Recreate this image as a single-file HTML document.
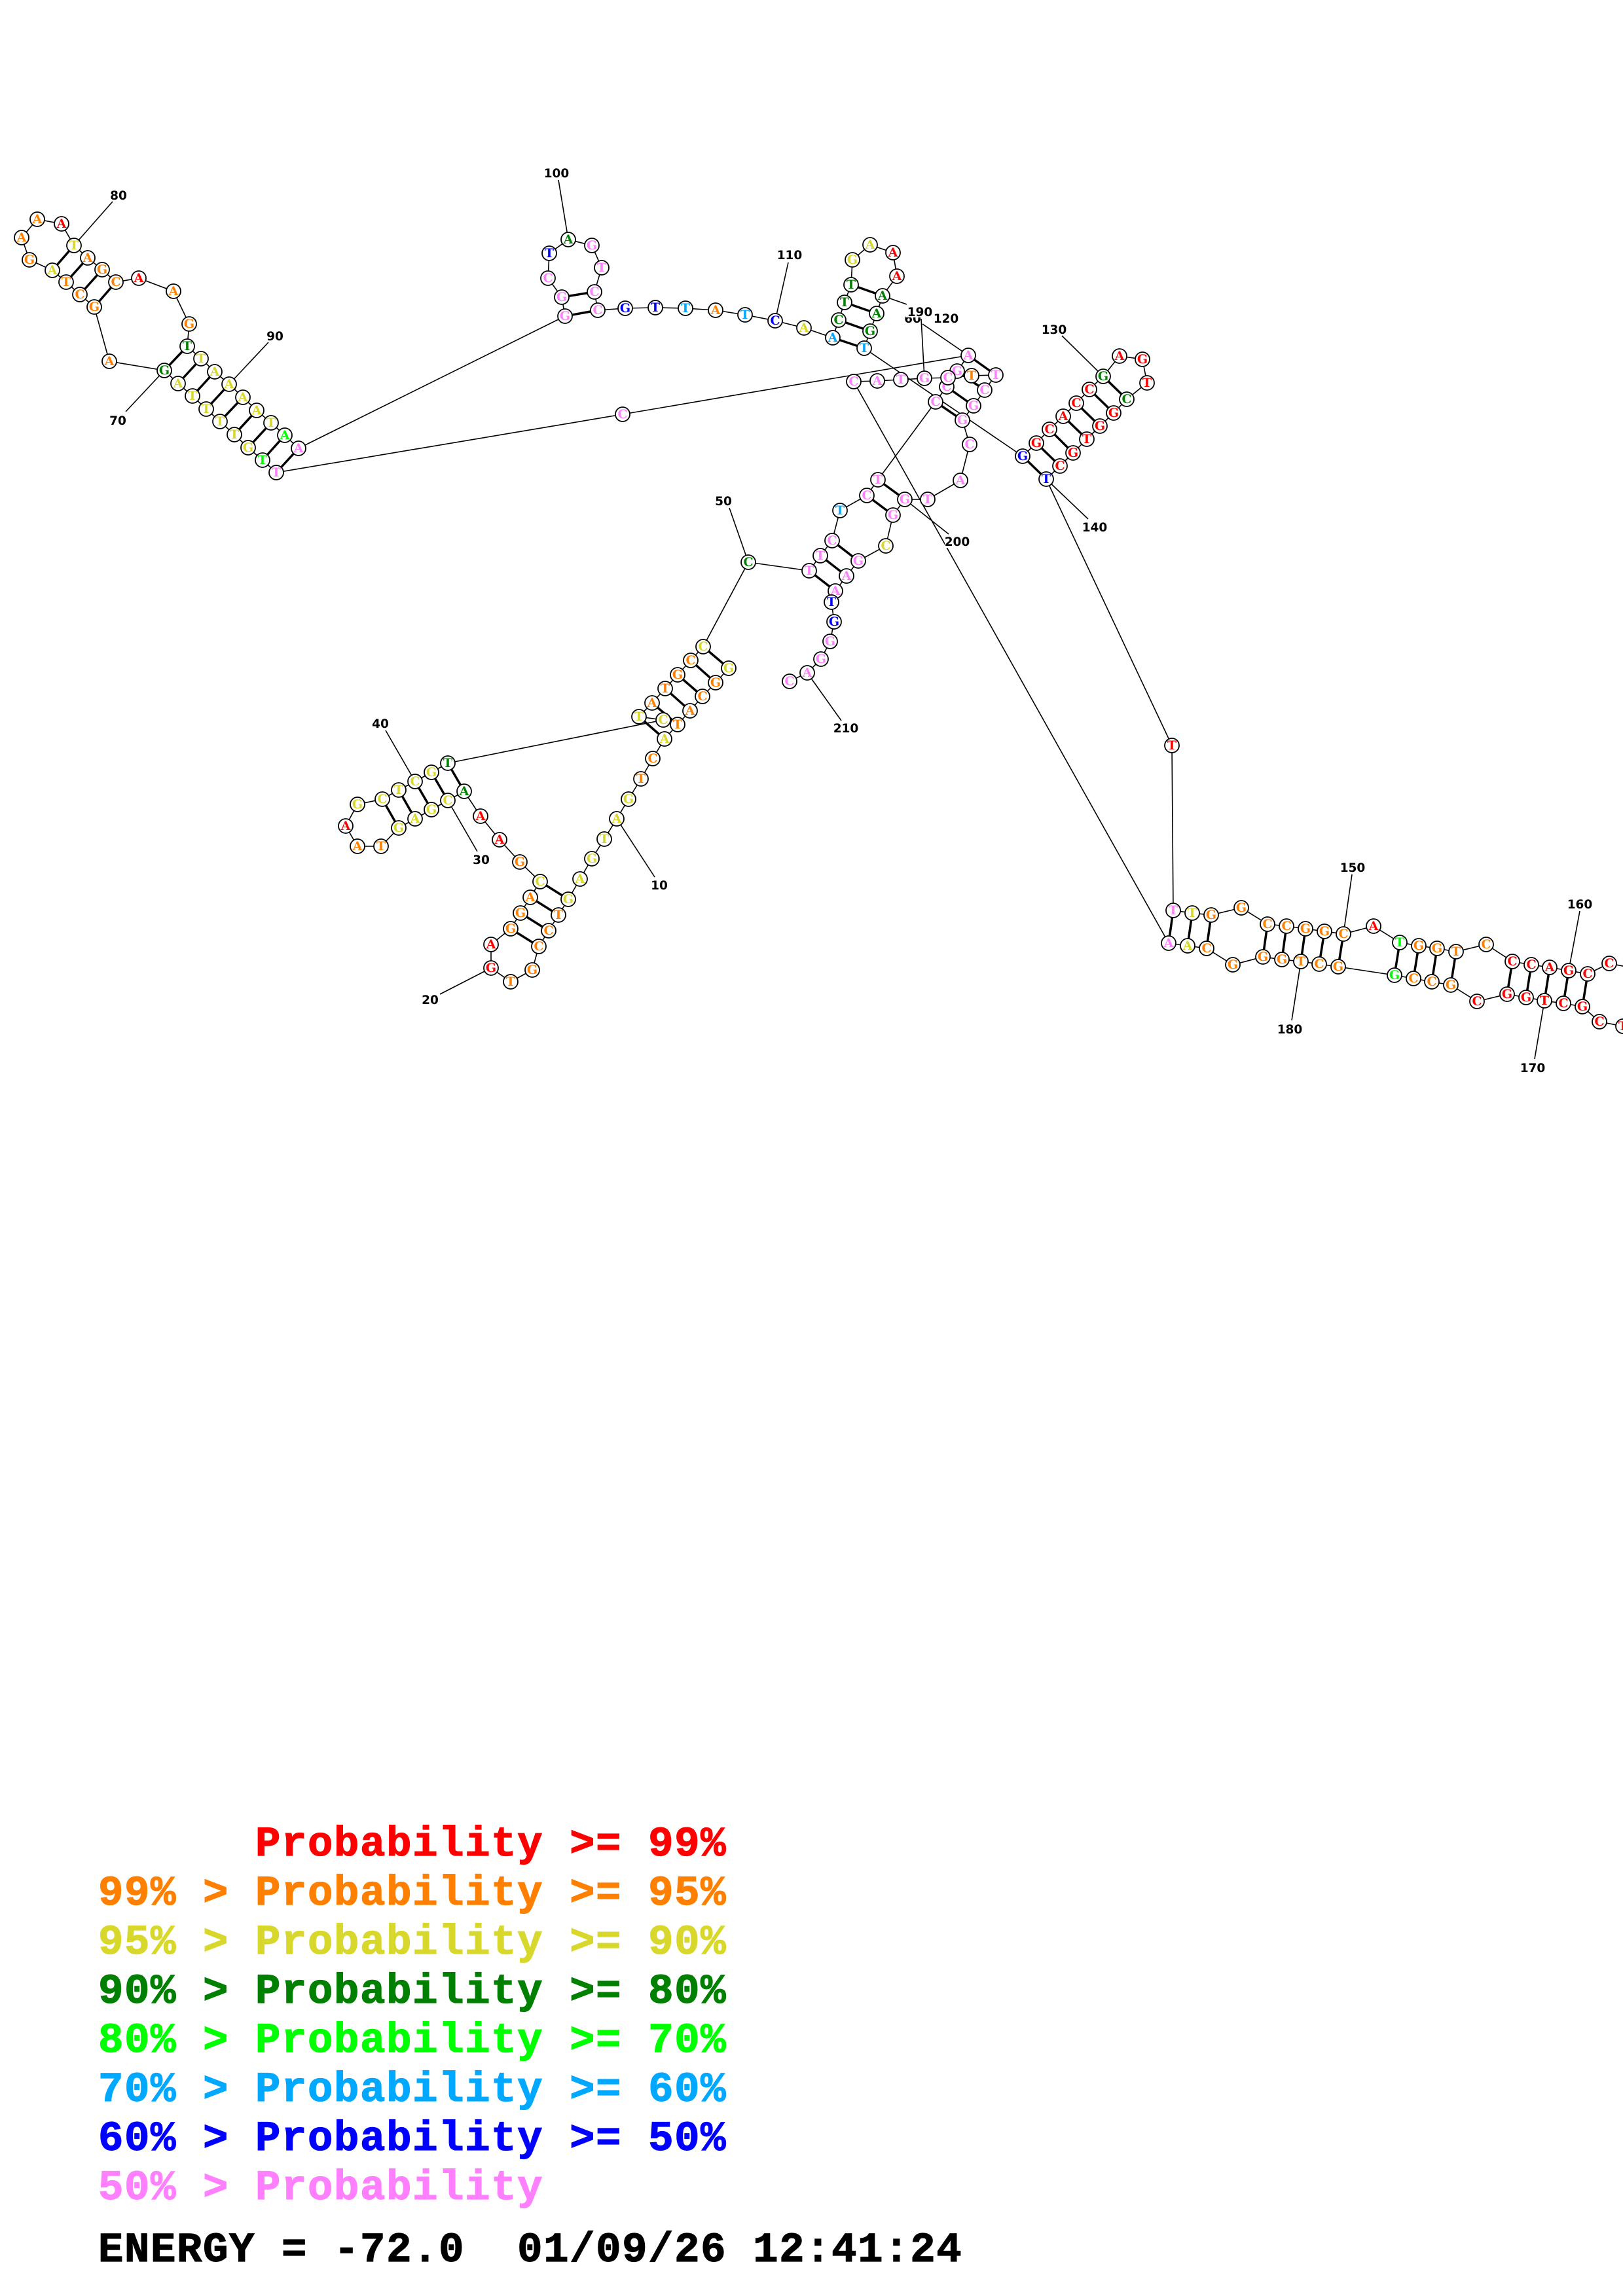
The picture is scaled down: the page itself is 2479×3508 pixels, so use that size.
<!DOCTYPE html>
<html><head><meta charset="utf-8"><style>
html,body{margin:0;padding:0;background:#fff}
svg{display:block}
circle{fill:#fff;stroke:#000;stroke-width:1.8}
.n text{font:bold 19px "DejaVu Serif",serif;text-anchor:middle}
.l text{font:bold 18.5px "DejaVu Sans",sans-serif;text-anchor:middle;fill:#000}
.k text{font:bold 64px "Liberation Mono",monospace;letter-spacing:1.6px;white-space:pre;stroke-width:1.2px;stroke:currentColor}
.r{fill:#f00;color:#f00}.o{fill:#ff8000;color:#ff8000}.y{fill:#d8d82c;color:#d8d82c}.d{fill:#008000;color:#008000}.g{fill:#0f0;color:#0f0}.c{fill:#00a8ff;color:#00a8ff}.b{fill:#00f;color:#00f}.p{fill:#ff80ff;color:#ff80ff}
</style></head><body>
<svg width="2479" height="3508" viewBox="0 0 2479 3508" xmlns="http://www.w3.org/2000/svg">
<rect width="2479" height="3508" fill="#fff"/>
<!-- backbone -->
<polyline fill="none" stroke="#000" stroke-width="1.6" points="1113,1021 1093,1043 1073,1064 1054,1086 1035,1107 1015,1129 997,1159 979,1190 960,1221 942,1251 923,1282 904,1312 886,1343 868,1374 853,1398 838,1422 823,1446 813,1482 780,1500 750,1479 750,1443 780,1419 795,1395 810,1371 825,1347 794,1317 763,1283 734,1247 709,1209 684,1223 659,1237 634,1251 609,1265 582,1293 546,1293 528,1262 546,1229 584,1221 609,1207 634,1194 659,1180 684,1166 1013,1100 976,1095 996,1074 1016,1052 1035,1031 1055,1009 1074,988 1143,859 1236,872 1253,849 1271,826 1283,780 1324,757 1341,733 1429,614 1446,591 1462,567 1479,543 951,633 422,722 401,703 379,684 358,664 336,644 315,625 294,605 272,586 251,566 167,552 144,469 122,450 101,431 80,413 45,397 33,363 57,335 94,342 113,375 134,394 156,412 177,431 212,425 265,445 289,495 286,529 307,548 328,568 350,587 371,607 392,627 414,646 435,665 456,685 863,483 858,454 837,425 839,387 868,366 904,375 919,409 908,446 913,474 955,471 1001,470 1047,471 1093,474 1138,481 1184,490 1228,501 1272,516 1281,489 1290,462 1300,435 1302,397 1329,374 1364,386 1370,422 1348,452 1339,479 1329,506 1320,532 1562,697 1583,677 1603,656 1624,636 1644,616 1664,595 1685,575 1710,544 1745,549 1752,585 1721,610 1701,631 1680,651 1660,671 1639,692 1619,712 1598,732 1790,1139 1792,1391 1821,1395 1850,1398 1896,1387 1936,1412 1965,1415 1994,1419 2023,1423 2052,1427 2098,1415 2138,1440 2167,1445 2195,1449 2224,1454 2270,1443 2310,1469 2339,1474 2367,1478 2396,1483 2425,1488 2458,1472 2510,1482 2510,1572 2479,1568 2443,1561 2417,1538 2388,1533 2359,1529 2331,1524 2302,1519 2256,1530 2216,1505 2187,1500 2159,1495 2130,1490 2044,1477 2015,1473 1987,1469 1958,1466 1929,1462 1883,1474 1843,1449 1814,1445 1785,1441 1304,583 1340,582 1376,580 1412,578 1448,577 1484,574 1521,573 1504,596 1487,620 1470,642 1481,679 1467,734 1417,763 1382,763 1364,787 1353,834 1311,857 1293,880 1276,903 1270,920 1274,950 1268,980 1254,1007 1233,1028 1206,1041"/>
<!-- base pairs -->
<path fill="none" stroke="#000" stroke-width="3.5" d="M1113 1021L1074 988M1093 1043L1055 1009M1073 1064L1035 1031M1054 1086L1016 1052M1035 1107L996 1074M1015 1129L976 1095M868 1374L825 1347M853 1398L810 1371M838 1422L795 1395M823 1446L780 1419M709 1209L684 1166M684 1223L659 1180M659 1237L634 1194M634 1251L609 1207M609 1265L584 1221M1236 872L1276 903M1253 849L1293 880M1271 826L1311 857M1324 757L1364 787M1341 733L1382 763M1429 614L1470 642M1446 591L1487 620M1462 567L1504 596M1479 543L1521 573M422 722L456 685M401 703L435 665M379 684L414 646M358 664L392 627M336 644L371 607M315 625L350 587M294 605L328 568M272 586L307 548M251 566L286 529M144 469L177 431M122 450L156 412M101 431L134 394M80 413L113 375M863 483L913 474M858 454L908 446M1272 516L1320 532M1281 489L1329 506M1290 462L1339 479M1300 435L1348 452M1562 697L1598 732M1583 677L1619 712M1603 656L1639 692M1624 636L1660 671M1644 616L1680 651M1664 595L1701 631M1685 575L1721 610M1792 1391L1785 1441M1821 1395L1814 1445M1850 1398L1843 1449M1936 1412L1929 1462M1965 1415L1958 1466M1994 1419L1987 1469M2023 1423L2015 1473M2052 1427L2044 1477M2138 1440L2130 1490M2167 1445L2159 1495M2195 1449L2187 1500M2224 1454L2216 1505M2310 1469L2302 1519M2339 1474L2331 1524M2367 1478L2359 1529M2396 1483L2388 1533M2425 1488L2417 1538"/>
<!-- ticks -->
<path fill="none" stroke="#000" stroke-width="1.6" d="M942 1251L1000 1340M750 1479L672 1519M684 1223L729 1301M634 1194L589 1116M1143 859L1114 776M1479 543L1409 495M251 566L192 629M113 375L172 308M350 587L410 523M868 366L853 275M1184 490L1204 401M1348 452L1385 465M1685 575L1622 513M1598 732L1662 793M2052 1427L2065 1336M2396 1483L2413 1392M2359 1529L2344 1618M1987 1469L1973 1559M1412 578L1407 487M1382 763L1449 816M1233 1028L1285 1101"/>
<!-- labels -->
<g class="l">
<text x="1007" y="1359">10</text>
<text x="657" y="1534">20</text>
<text x="735" y="1320">30</text>
<text x="581" y="1112">40</text>
<text x="1105" y="772">50</text>
<text x="1394" y="493">60</text>
<text x="180" y="649">70</text>
<text x="181" y="305">80</text>
<text x="420" y="520">90</text>
<text x="850" y="271">100</text>
<text x="1206" y="396">110</text>
<text x="1445" y="493">120</text>
<text x="1610" y="510">130</text>
<text x="1672" y="812">140</text>
<text x="2066" y="1332">150</text>
<text x="2413" y="1388">160</text>
<text x="2341" y="1638">170</text>
<text x="1970" y="1579">180</text>
<rect x="1383" y="466" width="42" height="19" fill="#fff"/>
<text x="1405" y="483">190</text>
<rect x="1443" y="819" width="39" height="18" fill="#fff"/>
<text x="1462" y="834">200</text>
<text x="1292" y="1119">210</text>
</g>
<!-- nodes -->
<g class="n">
<circle cx="1113" cy="1021" r="11"/><text x="1113" y="1027" class="y">G</text>
<circle cx="1093" cy="1043" r="11"/><text x="1093" y="1049" class="o">G</text>
<circle cx="1073" cy="1064" r="11"/><text x="1073" y="1070" class="o">C</text>
<circle cx="1054" cy="1086" r="11"/><text x="1054" y="1092" class="o">A</text>
<circle cx="1035" cy="1107" r="11"/><text x="1035" y="1113" class="o">T</text>
<circle cx="1015" cy="1129" r="11"/><text x="1015" y="1135" class="y">A</text>
<circle cx="997" cy="1159" r="11"/><text x="997" y="1165" class="o">C</text>
<circle cx="979" cy="1190" r="11"/><text x="979" y="1196" class="o">T</text>
<circle cx="960" cy="1221" r="11"/><text x="960" y="1227" class="y">G</text>
<circle cx="942" cy="1251" r="11"/><text x="942" y="1257" class="y">A</text>
<circle cx="923" cy="1282" r="11"/><text x="923" y="1288" class="y">T</text>
<circle cx="904" cy="1312" r="11"/><text x="904" y="1318" class="y">G</text>
<circle cx="886" cy="1343" r="11"/><text x="886" y="1349" class="y">A</text>
<circle cx="868" cy="1374" r="11"/><text x="868" y="1380" class="y">G</text>
<circle cx="853" cy="1398" r="11"/><text x="853" y="1404" class="o">T</text>
<circle cx="838" cy="1422" r="11"/><text x="838" y="1428" class="o">C</text>
<circle cx="823" cy="1446" r="11"/><text x="823" y="1452" class="o">C</text>
<circle cx="813" cy="1482" r="11"/><text x="813" y="1488" class="o">G</text>
<circle cx="780" cy="1500" r="11"/><text x="780" y="1506" class="o">T</text>
<circle cx="750" cy="1479" r="11"/><text x="750" y="1485" class="r">G</text>
<circle cx="750" cy="1443" r="11"/><text x="750" y="1449" class="r">A</text>
<circle cx="780" cy="1419" r="11"/><text x="780" y="1425" class="o">G</text>
<circle cx="795" cy="1395" r="11"/><text x="795" y="1401" class="o">G</text>
<circle cx="810" cy="1371" r="11"/><text x="810" y="1377" class="o">A</text>
<circle cx="825" cy="1347" r="11"/><text x="825" y="1353" class="y">C</text>
<circle cx="794" cy="1317" r="11"/><text x="794" y="1323" class="o">G</text>
<circle cx="763" cy="1283" r="11"/><text x="763" y="1289" class="r">A</text>
<circle cx="734" cy="1247" r="11"/><text x="734" y="1253" class="r">A</text>
<circle cx="709" cy="1209" r="11"/><text x="709" y="1215" class="d">A</text>
<circle cx="684" cy="1223" r="11"/><text x="684" y="1229" class="y">C</text>
<circle cx="659" cy="1237" r="11"/><text x="659" y="1243" class="y">G</text>
<circle cx="634" cy="1251" r="11"/><text x="634" y="1257" class="y">A</text>
<circle cx="609" cy="1265" r="11"/><text x="609" y="1271" class="y">G</text>
<circle cx="582" cy="1293" r="11"/><text x="582" y="1299" class="o">T</text>
<circle cx="546" cy="1293" r="11"/><text x="546" y="1299" class="o">A</text>
<circle cx="528" cy="1262" r="11"/><text x="528" y="1268" class="r">A</text>
<circle cx="546" cy="1229" r="11"/><text x="546" y="1235" class="y">G</text>
<circle cx="584" cy="1221" r="11"/><text x="584" y="1227" class="y">C</text>
<circle cx="609" cy="1207" r="11"/><text x="609" y="1213" class="y">T</text>
<circle cx="634" cy="1194" r="11"/><text x="634" y="1200" class="y">C</text>
<circle cx="659" cy="1180" r="11"/><text x="659" y="1186" class="y">G</text>
<circle cx="684" cy="1166" r="11"/><text x="684" y="1172" class="d">T</text>
<circle cx="1013" cy="1100" r="11"/><text x="1013" y="1106" class="y">C</text>
<circle cx="976" cy="1095" r="11"/><text x="976" y="1101" class="y">T</text>
<circle cx="996" cy="1074" r="11"/><text x="996" y="1080" class="o">A</text>
<circle cx="1016" cy="1052" r="11"/><text x="1016" y="1058" class="o">T</text>
<circle cx="1035" cy="1031" r="11"/><text x="1035" y="1037" class="o">G</text>
<circle cx="1055" cy="1009" r="11"/><text x="1055" y="1015" class="o">C</text>
<circle cx="1074" cy="988" r="11"/><text x="1074" y="994" class="y">C</text>
<circle cx="1143" cy="859" r="11"/><text x="1143" y="865" class="d">C</text>
<circle cx="1236" cy="872" r="11"/><text x="1236" y="878" class="p">T</text>
<circle cx="1253" cy="849" r="11"/><text x="1253" y="855" class="p">T</text>
<circle cx="1271" cy="826" r="11"/><text x="1271" y="832" class="p">C</text>
<circle cx="1283" cy="780" r="11"/><text x="1283" y="786" class="c">T</text>
<circle cx="1324" cy="757" r="11"/><text x="1324" y="763" class="p">C</text>
<circle cx="1341" cy="733" r="11"/><text x="1341" y="739" class="p">T</text>
<circle cx="1429" cy="614" r="11"/><text x="1429" y="620" class="p">C</text>
<circle cx="1446" cy="591" r="11"/><text x="1446" y="597" class="p">C</text>
<circle cx="1462" cy="567" r="11"/><text x="1462" y="573" class="p">G</text>
<circle cx="1479" cy="543" r="11"/><text x="1479" y="549" class="p">A</text>
<circle cx="951" cy="633" r="11"/><text x="951" y="639" class="p">C</text>
<circle cx="422" cy="722" r="11"/><text x="422" y="728" class="p">T</text>
<circle cx="401" cy="703" r="11"/><text x="401" y="709" class="g">T</text>
<circle cx="379" cy="684" r="11"/><text x="379" y="690" class="y">G</text>
<circle cx="358" cy="664" r="11"/><text x="358" y="670" class="y">T</text>
<circle cx="336" cy="644" r="11"/><text x="336" y="650" class="y">T</text>
<circle cx="315" cy="625" r="11"/><text x="315" y="631" class="y">T</text>
<circle cx="294" cy="605" r="11"/><text x="294" y="611" class="y">T</text>
<circle cx="272" cy="586" r="11"/><text x="272" y="592" class="y">A</text>
<circle cx="251" cy="566" r="11"/><text x="251" y="572" class="d">G</text>
<circle cx="167" cy="552" r="11"/><text x="167" y="558" class="o">A</text>
<circle cx="144" cy="469" r="11"/><text x="144" y="475" class="o">G</text>
<circle cx="122" cy="450" r="11"/><text x="122" y="456" class="o">C</text>
<circle cx="101" cy="431" r="11"/><text x="101" y="437" class="o">T</text>
<circle cx="80" cy="413" r="11"/><text x="80" y="419" class="y">A</text>
<circle cx="45" cy="397" r="11"/><text x="45" y="403" class="o">G</text>
<circle cx="33" cy="363" r="11"/><text x="33" y="369" class="o">A</text>
<circle cx="57" cy="335" r="11"/><text x="57" y="341" class="o">A</text>
<circle cx="94" cy="342" r="11"/><text x="94" y="348" class="r">A</text>
<circle cx="113" cy="375" r="11"/><text x="113" y="381" class="y">T</text>
<circle cx="134" cy="394" r="11"/><text x="134" y="400" class="o">A</text>
<circle cx="156" cy="412" r="11"/><text x="156" y="418" class="o">G</text>
<circle cx="177" cy="431" r="11"/><text x="177" y="437" class="o">C</text>
<circle cx="212" cy="425" r="11"/><text x="212" y="431" class="r">A</text>
<circle cx="265" cy="445" r="11"/><text x="265" y="451" class="o">A</text>
<circle cx="289" cy="495" r="11"/><text x="289" y="501" class="o">G</text>
<circle cx="286" cy="529" r="11"/><text x="286" y="535" class="d">T</text>
<circle cx="307" cy="548" r="11"/><text x="307" y="554" class="y">T</text>
<circle cx="328" cy="568" r="11"/><text x="328" y="574" class="y">A</text>
<circle cx="350" cy="587" r="11"/><text x="350" y="593" class="y">A</text>
<circle cx="371" cy="607" r="11"/><text x="371" y="613" class="y">A</text>
<circle cx="392" cy="627" r="11"/><text x="392" y="633" class="y">A</text>
<circle cx="414" cy="646" r="11"/><text x="414" y="652" class="y">T</text>
<circle cx="435" cy="665" r="11"/><text x="435" y="671" class="g">A</text>
<circle cx="456" cy="685" r="11"/><text x="456" y="691" class="p">A</text>
<circle cx="863" cy="483" r="11"/><text x="863" y="489" class="p">G</text>
<circle cx="858" cy="454" r="11"/><text x="858" y="460" class="p">G</text>
<circle cx="837" cy="425" r="11"/><text x="837" y="431" class="p">C</text>
<circle cx="839" cy="387" r="11"/><text x="839" y="393" class="b">T</text>
<circle cx="868" cy="366" r="11"/><text x="868" y="372" class="d">A</text>
<circle cx="904" cy="375" r="11"/><text x="904" y="381" class="p">G</text>
<circle cx="919" cy="409" r="11"/><text x="919" y="415" class="p">T</text>
<circle cx="908" cy="446" r="11"/><text x="908" y="452" class="p">C</text>
<circle cx="913" cy="474" r="11"/><text x="913" y="480" class="p">C</text>
<circle cx="955" cy="471" r="11"/><text x="955" y="477" class="b">G</text>
<circle cx="1001" cy="470" r="11"/><text x="1001" y="476" class="b">T</text>
<circle cx="1047" cy="471" r="11"/><text x="1047" y="477" class="c">T</text>
<circle cx="1093" cy="474" r="11"/><text x="1093" y="480" class="o">A</text>
<circle cx="1138" cy="481" r="11"/><text x="1138" y="487" class="c">T</text>
<circle cx="1184" cy="490" r="11"/><text x="1184" y="496" class="b">C</text>
<circle cx="1228" cy="501" r="11"/><text x="1228" y="507" class="y">A</text>
<circle cx="1272" cy="516" r="11"/><text x="1272" y="522" class="c">A</text>
<circle cx="1281" cy="489" r="11"/><text x="1281" y="495" class="d">C</text>
<circle cx="1290" cy="462" r="11"/><text x="1290" y="468" class="d">T</text>
<circle cx="1300" cy="435" r="11"/><text x="1300" y="441" class="d">T</text>
<circle cx="1302" cy="397" r="11"/><text x="1302" y="403" class="y">G</text>
<circle cx="1329" cy="374" r="11"/><text x="1329" y="380" class="y">A</text>
<circle cx="1364" cy="386" r="11"/><text x="1364" y="392" class="r">A</text>
<circle cx="1370" cy="422" r="11"/><text x="1370" y="428" class="r">A</text>
<circle cx="1348" cy="452" r="11"/><text x="1348" y="458" class="d">A</text>
<circle cx="1339" cy="479" r="11"/><text x="1339" y="485" class="d">A</text>
<circle cx="1329" cy="506" r="11"/><text x="1329" y="512" class="d">G</text>
<circle cx="1320" cy="532" r="11"/><text x="1320" y="538" class="c">T</text>
<circle cx="1562" cy="697" r="11"/><text x="1562" y="703" class="b">G</text>
<circle cx="1583" cy="677" r="11"/><text x="1583" y="683" class="r">G</text>
<circle cx="1603" cy="656" r="11"/><text x="1603" y="662" class="r">C</text>
<circle cx="1624" cy="636" r="11"/><text x="1624" y="642" class="r">A</text>
<circle cx="1644" cy="616" r="11"/><text x="1644" y="622" class="r">C</text>
<circle cx="1664" cy="595" r="11"/><text x="1664" y="601" class="r">C</text>
<circle cx="1685" cy="575" r="11"/><text x="1685" y="581" class="d">G</text>
<circle cx="1710" cy="544" r="11"/><text x="1710" y="550" class="r">A</text>
<circle cx="1745" cy="549" r="11"/><text x="1745" y="555" class="r">G</text>
<circle cx="1752" cy="585" r="11"/><text x="1752" y="591" class="r">T</text>
<circle cx="1721" cy="610" r="11"/><text x="1721" y="616" class="d">C</text>
<circle cx="1701" cy="631" r="11"/><text x="1701" y="637" class="r">G</text>
<circle cx="1680" cy="651" r="11"/><text x="1680" y="657" class="r">G</text>
<circle cx="1660" cy="671" r="11"/><text x="1660" y="677" class="r">T</text>
<circle cx="1639" cy="692" r="11"/><text x="1639" y="698" class="r">G</text>
<circle cx="1619" cy="712" r="11"/><text x="1619" y="718" class="r">C</text>
<circle cx="1598" cy="732" r="11"/><text x="1598" y="738" class="b">T</text>
<circle cx="1790" cy="1139" r="11"/><text x="1790" y="1145" class="r">T</text>
<circle cx="1792" cy="1391" r="11"/><text x="1792" y="1397" class="p">T</text>
<circle cx="1821" cy="1395" r="11"/><text x="1821" y="1401" class="y">T</text>
<circle cx="1850" cy="1398" r="11"/><text x="1850" y="1404" class="o">G</text>
<circle cx="1896" cy="1387" r="11"/><text x="1896" y="1393" class="o">G</text>
<circle cx="1936" cy="1412" r="11"/><text x="1936" y="1418" class="o">C</text>
<circle cx="1965" cy="1415" r="11"/><text x="1965" y="1421" class="o">C</text>
<circle cx="1994" cy="1419" r="11"/><text x="1994" y="1425" class="o">G</text>
<circle cx="2023" cy="1423" r="11"/><text x="2023" y="1429" class="o">G</text>
<circle cx="2052" cy="1427" r="11"/><text x="2052" y="1433" class="o">C</text>
<circle cx="2098" cy="1415" r="11"/><text x="2098" y="1421" class="r">A</text>
<circle cx="2138" cy="1440" r="11"/><text x="2138" y="1446" class="g">T</text>
<circle cx="2167" cy="1445" r="11"/><text x="2167" y="1451" class="o">G</text>
<circle cx="2195" cy="1449" r="11"/><text x="2195" y="1455" class="o">G</text>
<circle cx="2224" cy="1454" r="11"/><text x="2224" y="1460" class="o">T</text>
<circle cx="2270" cy="1443" r="11"/><text x="2270" y="1449" class="o">C</text>
<circle cx="2310" cy="1469" r="11"/><text x="2310" y="1475" class="r">C</text>
<circle cx="2339" cy="1474" r="11"/><text x="2339" y="1480" class="r">C</text>
<circle cx="2367" cy="1478" r="11"/><text x="2367" y="1484" class="r">A</text>
<circle cx="2396" cy="1483" r="11"/><text x="2396" y="1489" class="r">G</text>
<circle cx="2425" cy="1488" r="11"/><text x="2425" y="1494" class="r">C</text>
<circle cx="2458" cy="1472" r="11"/><text x="2458" y="1478" class="r">C</text>
<circle cx="2479" cy="1568" r="11"/><text x="2479" y="1574" class="r">T</text>
<circle cx="2443" cy="1561" r="11"/><text x="2443" y="1567" class="r">C</text>
<circle cx="2417" cy="1538" r="11"/><text x="2417" y="1544" class="r">G</text>
<circle cx="2388" cy="1533" r="11"/><text x="2388" y="1539" class="r">C</text>
<circle cx="2359" cy="1529" r="11"/><text x="2359" y="1535" class="r">T</text>
<circle cx="2331" cy="1524" r="11"/><text x="2331" y="1530" class="r">G</text>
<circle cx="2302" cy="1519" r="11"/><text x="2302" y="1525" class="r">G</text>
<circle cx="2256" cy="1530" r="11"/><text x="2256" y="1536" class="r">C</text>
<circle cx="2216" cy="1505" r="11"/><text x="2216" y="1511" class="o">G</text>
<circle cx="2187" cy="1500" r="11"/><text x="2187" y="1506" class="o">C</text>
<circle cx="2159" cy="1495" r="11"/><text x="2159" y="1501" class="o">C</text>
<circle cx="2130" cy="1490" r="11"/><text x="2130" y="1496" class="g">G</text>
<circle cx="2044" cy="1477" r="11"/><text x="2044" y="1483" class="o">G</text>
<circle cx="2015" cy="1473" r="11"/><text x="2015" y="1479" class="o">C</text>
<circle cx="1987" cy="1469" r="11"/><text x="1987" y="1475" class="o">T</text>
<circle cx="1958" cy="1466" r="11"/><text x="1958" y="1472" class="o">G</text>
<circle cx="1929" cy="1462" r="11"/><text x="1929" y="1468" class="o">G</text>
<circle cx="1883" cy="1474" r="11"/><text x="1883" y="1480" class="o">G</text>
<circle cx="1843" cy="1449" r="11"/><text x="1843" y="1455" class="o">C</text>
<circle cx="1814" cy="1445" r="11"/><text x="1814" y="1451" class="y">A</text>
<circle cx="1785" cy="1441" r="11"/><text x="1785" y="1447" class="p">A</text>
<circle cx="1304" cy="583" r="11"/><text x="1304" y="589" class="p">C</text>
<circle cx="1340" cy="582" r="11"/><text x="1340" y="588" class="p">A</text>
<circle cx="1376" cy="580" r="11"/><text x="1376" y="586" class="p">T</text>
<circle cx="1412" cy="578" r="11"/><text x="1412" y="584" class="p">G</text>
<circle cx="1448" cy="577" r="11"/><text x="1448" y="583" class="p">C</text>
<circle cx="1484" cy="574" r="11"/><text x="1484" y="580" class="o">T</text>
<circle cx="1521" cy="573" r="11"/><text x="1521" y="579" class="p">T</text>
<circle cx="1504" cy="596" r="11"/><text x="1504" y="602" class="p">C</text>
<circle cx="1487" cy="620" r="11"/><text x="1487" y="626" class="p">G</text>
<circle cx="1470" cy="642" r="11"/><text x="1470" y="648" class="p">G</text>
<circle cx="1481" cy="679" r="11"/><text x="1481" y="685" class="p">C</text>
<circle cx="1467" cy="734" r="11"/><text x="1467" y="740" class="p">A</text>
<circle cx="1417" cy="763" r="11"/><text x="1417" y="769" class="p">T</text>
<circle cx="1382" cy="763" r="11"/><text x="1382" y="769" class="p">G</text>
<circle cx="1364" cy="787" r="11"/><text x="1364" y="793" class="p">G</text>
<circle cx="1353" cy="834" r="11"/><text x="1353" y="840" class="y">C</text>
<circle cx="1311" cy="857" r="11"/><text x="1311" y="863" class="p">G</text>
<circle cx="1293" cy="880" r="11"/><text x="1293" y="886" class="p">A</text>
<circle cx="1276" cy="903" r="11"/><text x="1276" y="909" class="p">A</text>
<circle cx="1270" cy="920" r="11"/><text x="1270" y="926" class="b">T</text>
<circle cx="1274" cy="950" r="11"/><text x="1274" y="956" class="b">G</text>
<circle cx="1268" cy="980" r="11"/><text x="1268" y="986" class="p">G</text>
<circle cx="1254" cy="1007" r="11"/><text x="1254" y="1013" class="p">G</text>
<circle cx="1233" cy="1028" r="11"/><text x="1233" y="1034" class="p">A</text>
<circle cx="1206" cy="1041" r="11"/><text x="1206" y="1047" class="p">C</text>
</g>
<!-- legend -->
<g class="k">
<text x="150" y="2835" class="r">      Probability &gt;= 99%</text>
<text x="150" y="2910" class="o">99% &gt; Probability &gt;= 95%</text>
<text x="150" y="2985" class="y">95% &gt; Probability &gt;= 90%</text>
<text x="150" y="3060" class="d">90% &gt; Probability &gt;= 80%</text>
<text x="150" y="3135" class="g">80% &gt; Probability &gt;= 70%</text>
<text x="150" y="3210" class="c">70% &gt; Probability &gt;= 60%</text>
<text x="150" y="3285" class="b">60% &gt; Probability &gt;= 50%</text>
<text x="150" y="3360" class="p">50% &gt; Probability</text>
<text x="150" y="3455" fill="#000" style="color:#000">ENERGY = -72.0  01/09/26 12:41:24</text>
</g>
</svg>
</body></html>
